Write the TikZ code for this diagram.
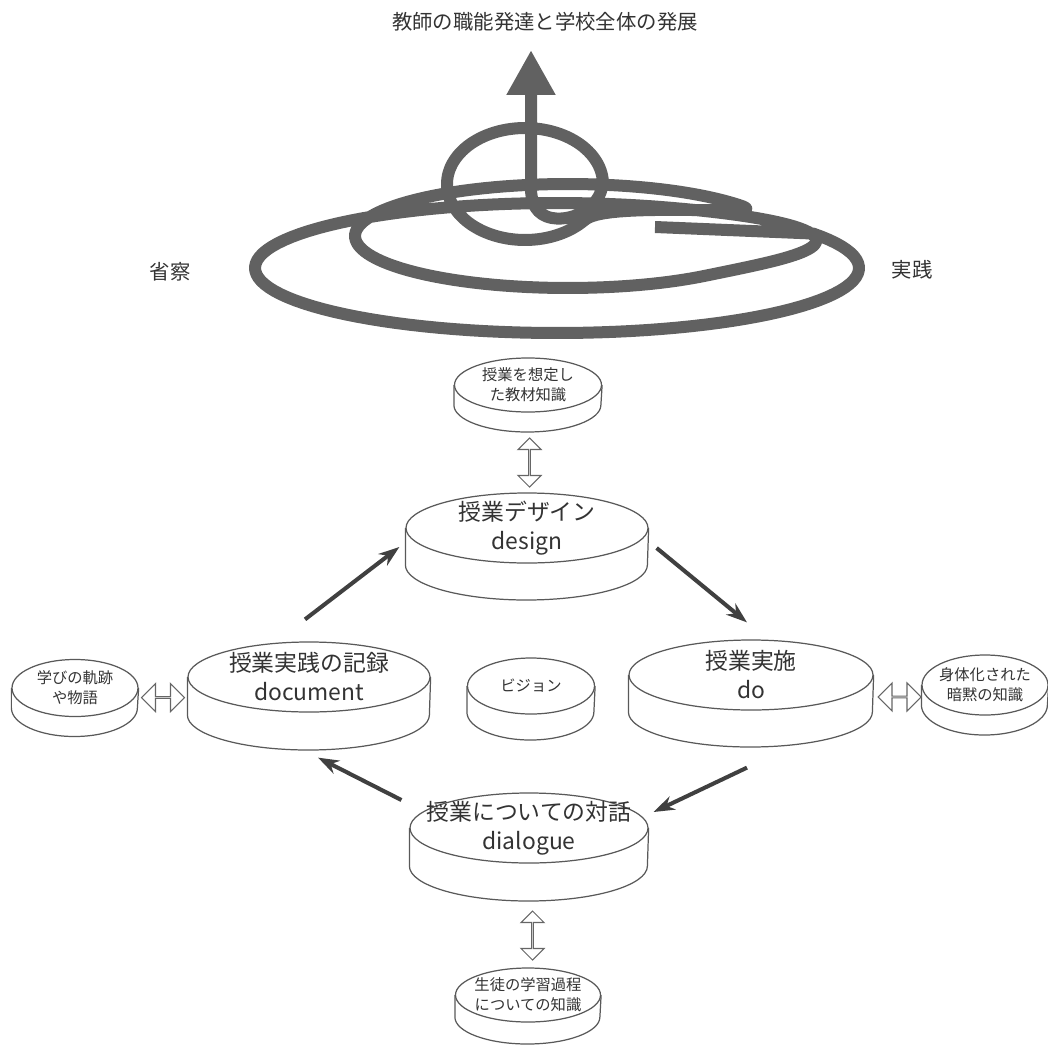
\documentclass[tikz,border=0pt]{standalone}
\usepackage{fontspec}
\setmainfont{Noto Sans CJK JP}
\usetikzlibrary{shapes.geometric,shapes.arrows,arrows.meta,calc}

\begin{document}
\begin{tikzpicture}[
  x=0.2mm, y=-0.2mm,
  % flat disks (top face is the node, the rim is drawn below it)
  disk/.style={ellipse,draw=black!65,fill=white,inner sep=0pt,line width=0.7pt},
  bigdisk/.style={disk,minimum width=48.4mm,minimum height=14mm},
  smalldisk/.style={disk,minimum width=25.2mm,minimum height=11.4mm},
  bigtext/.style={align=center,text=black!80,inner sep=0pt,font=\fontsize{13}{16.5}\selectfont},
  smalltext/.style={align=center,text=black!80,inner sep=0pt,font=\fontsize{8.7}{11.5}\selectfont},
  headtext/.style={text=black!80,font=\fontsize{11.6}{14}\selectfont},
  rim/.style={draw=black!65,line width=0.7pt},
  flow/.style={draw=black!75,line width=2.3pt,-{Stealth[length=4.2mm,width=2.9mm]}},
  both/.style={double arrow,draw=black!60,fill=white,line width=0.6pt,inner sep=0pt,
    minimum height=9.8mm,minimum width=4.6mm,double arrow head extend=1.3mm},
  sideways/.style={both,minimum height=8.6mm,minimum width=5.6mm,double arrow head extend=1.6mm},
  spiral/.style={draw=black!62,line width=2.4mm,line join=round},
  declare function={
    wa(\t)=max(0,min(1,(\t-290)/120));
    wb(\t)=max(0,min(1,(\t-680)/80));
    su(\t)=wa(\t)^2*(3-2*wa(\t));
    sv(\t)=wb(\t)^2*(3-2*wb(\t));
  }
]
\useasboundingbox (0,0) rectangle (1048,1048);

% title and the two sides of the spiral
\node[headtext] (goal) at (545,22) {教師の職能発達と学校全体の発展};
\node[headtext] (seisatsu) at (170,272) {省察};
\node[headtext] (jissen) at (912,270) {実践};

% growth spiral, winding inwards and then up
\draw[spiral,-{Triangle[width=9.2mm,length=9mm]}] (655,227)
  -- plot[domain=-32:1075,samples=360,variable=\t]
     ({557+11*su(\t)-43*sv(\t)+(302-89*su(\t)-135*sv(\t))*cos(\t)},
      {268-32*su(\t)-52*sv(\t)+(65-13*su(\t)+4*sv(\t))*sin(\t)})
  .. controls (604,205) and (575,222) .. (552,218)
  .. controls (536,215) and (531,203) .. (531,188) -- (531,50);

% disks
\node[smalldisk,minimum width=29.4mm,minimum height=10.8mm,
  label={[smalltext]center:授業を想定し\\た教材知識}] (kyozai) at (528,385) {};
\node[bigdisk,label={[bigtext]center:授業デザイン\\design}] (design) at (527,528) {};
\node[bigdisk,label={[bigtext]center:授業実践の記録\\document}] (kiroku) at (309,677) {};
\node[smalldisk,minimum width=25.4mm,minimum height=11.2mm,
  label={[smalltext]center:ビジョン}] (vision) at (531,686) {};
\node[bigdisk,minimum width=48.8mm,label={[bigtext]center:授業実施\\do}] (jisshi) at (751,675) {};
\node[bigdisk,minimum width=47.6mm,label={[bigtext]center:授業についての対話\\dialogue}] (taiwa) at (529,828) {};
\node[smalldisk,label={[smalltext]center:学びの軌跡\\や物語}] (kiseki) at (75,688) {};
\node[smalldisk,minimum height=12mm,label={[smalltext]center:身体化された\\暗黙の知識}] (anmoku) at (985,685) {};
\node[smalldisk,minimum width=29mm,minimum height=10.8mm,
  label={[smalltext]center:生徒の学習過程\\についての知識}] (seito) at (528,995) {};

% rims
\foreach \n/\h/\rx/\ry in {kyozai/20/14.7/5.4, design/37/24.2/7, kiroku/38/24.2/7,
  vision/26/12.7/5.6, jisshi/37/24.4/7, taiwa/38/23.8/7, kiseki/20/12.6/5.7,
  anmoku/20/12.6/6, seito/22/14.5/5.4}
  \draw[rim] (\n.west) -- ++(0,\h) arc[start angle=180,end angle=360,x radius=\rx mm,y radius=\ry mm] -- (\n.east);

% hollow two-way arrows
\node[both,shape border rotate=90] (kd) at ($(kyozai.south)!.5!(design.north)+(2,10)$) {};
\node[both,shape border rotate=90] (ts) at ($(taiwa.south)!.5!(seito.north)+(4,20)$) {};
\node[sideways] (kk) at ($(kiseki.east)!.5!(kiroku.west)+(0,15)$) {};
\node[sideways] (ja) at ($(jisshi.east)!.5!(anmoku.west)+(2,17)$) {};

% cycle
\draw[flow] ([shift={(-4,-22)}]kiroku.north) -- ([shift={(-6,19)}]design.west);
\draw[flow] ([shift={(8,20)}]design.east) -- ([shift={(-4,-17)}]jisshi.north);
\draw[flow] ([shift={(-4,57)}]jisshi.south) -- ([shift={(5,-16)}]taiwa.east);
\draw[flow] ([shift={(-8,-28)}]taiwa.west) -- ([shift={(9,45)}]kiroku.south);

\end{tikzpicture}
\end{document}
